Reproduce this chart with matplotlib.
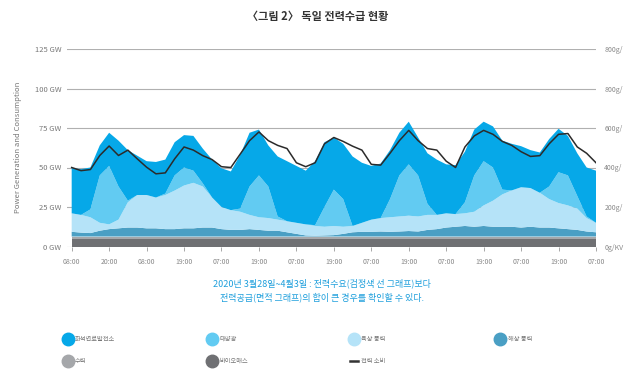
import matplotlib
matplotlib.use("Agg")
import matplotlib.pyplot as plt
import numpy as np
from matplotlib.lines import Line2D

plt.rcParams["font.family"] = ["Noto Sans CJK KR", "DejaVu Sans"]

# hours since start (08:00, 28 March), every 3 h
hours = np.arange(0, 169, 3)

# upper edge of each stacked layer (GW)
total_top = [49.5, 49, 50, 64, 72, 67, 61, 57.5, 54, 53.5, 55, 66, 70.5, 70,
             62, 55, 49.5, 47.5, 58, 72, 74, 64, 57, 54, 51, 48, 54, 66,
             69, 65, 57, 53, 51, 52.5, 61, 72, 79, 69, 59, 55, 52, 51.5,
             60, 74, 79, 76, 67, 65, 63.5, 61, 59.5, 68, 74.5, 70, 59, 50, 48]
solar_top = [21, 20, 23.5, 45, 51, 38, 29, 32.6, 32.6, 31, 33.5, 45, 50, 48,
             40, 31, 25, 23, 24, 38, 45, 38, 19, 16, 15, 14, 13.5, 25,
             36, 30, 13, 15, 17, 18, 30, 45, 52, 45, 27, 20, 21, 20.5,
             28, 45, 54, 50, 36, 35.5, 37.5, 37, 34, 38, 47, 45, 32, 19, 15]
onshore_top = [21, 20, 18.5, 15, 14, 17, 28, 32.6, 32.6, 31, 32.6, 35.4, 38.6, 40.3,
               38, 31, 25, 23, 22, 20, 18.5, 18, 17, 16, 15, 14, 13, 12.5,
               13, 12.5, 13, 15, 17, 18, 18.5, 19, 19.5, 19, 20, 20, 21, 20.5,
               21, 22, 26, 29, 33, 35.5, 37.5, 37, 34, 30, 27.5, 26, 24, 18, 15]
offshore_top = [9.3, 8.8, 8.5, 10, 11, 11.5, 12, 12, 11.5, 11.5, 11, 11, 11.5, 11.5,
                12, 12, 11, 10.5, 10.5, 11, 10.5, 10, 10, 9, 8, 7, 6.8, 7,
                7.2, 8, 9, 9.3, 9.3, 9.5, 9.3, 9.5, 9.8, 9.5, 10.5, 11, 12, 12.5,
                13, 12.5, 13, 12.5, 12.5, 12.5, 12, 12.5, 12, 12, 11.5, 11, 10.5, 9.5, 9]
hydro_top = [6.3] * len(hours)
biomass = [4.5] * len(hours)

demand = [50, 48, 48.7, 57.6, 63.6, 57.6, 61, 55.5, 50.2, 46, 46.6, 55.5, 63, 61,
          57.5, 55, 50.5, 50, 58.5, 67, 72.5, 67, 64, 62, 53, 50.5, 53, 65,
          69, 66.5, 63.5, 61, 52, 51.5, 59, 67, 73.5, 67, 62, 61, 54, 50,
          63, 70, 73.5, 71, 66.5, 64, 60, 57, 57.5, 65, 71, 71.5, 63, 59, 53]

tick_hours = np.arange(0, 169, 12)
tick_labels = ["08:00", "20:00", "08:00", "19:00", "07:00", "19:00", "07:00", "19:00",
               "07:00", "19:00", "07:00", "19:00", "07:00", "19:00", "07:00"]
left_labels = ["0 GW", "25 GW", "50 GW", "75 GW", "100 GW", "125 GW"]
right_labels = ["0g/KV", "200g/", "400g/", "600g/", "800g/", "800g/"]

names = ["바이오매스", "수력", "해상 풍력", "육상 풍력", "태양광", "화석연료발전소"]
colors = ["#6f7073", "#a5a7aa", "#4a9fc4", "#b5e3f8", "#62cbf2", "#06a8e8"]

tops = np.array([biomass, hydro_top, offshore_top, onshore_top, solar_top, total_top])
layers = np.diff(np.vstack([np.zeros(len(hours)), tops]), axis=0)

fig = plt.figure(figsize=(6.4, 3.78), dpi=100)
ax = fig.add_axes([67 / 640, 1 - 246.5 / 378, 529 / 640, 197.5 / 378])

ax.stackplot(hours, layers, colors=colors, linewidth=0, zorder=2)
ax.plot(hours, demand, color="#2b2b2b", lw=1.1, zorder=3)

ax.set_xlim(-1.5, 168)
ax.set_ylim(0, 125)
ax.set_yticks(np.arange(0, 126, 25))
ax.set_yticklabels(left_labels)
ax.set_xticks(tick_hours)
ax.set_xticklabels(tick_labels)
ax.grid(axis="y", color="#b0b0b0", lw=0.8, zorder=1)
for s in ax.spines.values():
    s.set_visible(False)
ax.tick_params(axis="y", length=0, pad=4, labelsize=5.5, labelcolor="#777777")
ax.tick_params(axis="x", length=3, width=0.6, color="#999999", pad=5,
               labelsize=5, labelcolor="#888888")
ax.set_ylabel("Power Generation and Consumption", fontsize=5.5, color="#777777",
              labelpad=9)

ax2 = ax.twinx()
ax2.set_ylim(0, 125)
ax2.set_yticks(np.arange(0, 126, 25))
ax2.set_yticklabels(right_labels)
ax2.tick_params(axis="y", length=0, pad=6, labelsize=5, labelcolor="#888888")
for s in ax2.spines.values():
    s.set_visible(False)

fig.text(0.497, 0.957, "〈그림 2〉 독일 전력수급 현황", ha="center", va="center",
         fontsize=8, fontweight="bold", color="#333333")
fig.text(0.503, 0.232, "2020년 3월28일~4월3일 : 전력수요(검정색 선 그래프)보다\n"
         "전력공급(면적 그래프)의 합이 큰 경우를 확인할 수 있다.",
         ha="center", va="center", fontsize=6.5, color="#1e9fdc", linespacing=1.6)

def dot(c):
    return Line2D([], [], marker="o", ls="none", markersize=9, color=c)

columns = [
    ([dot(colors[5]), dot(colors[1])], [names[5], names[1]], 0.096),
    ([dot(colors[4]), dot(colors[0])], [names[4], names[0]], 0.322),
    ([dot(colors[3]), Line2D([], [], color="#333333", lw=1.8)], [names[3], "전력 소비"], 0.543),
    ([dot(colors[2])], [names[2]], 0.772),
]
for handles, labels, x0 in columns:
    fig.legend(handles, labels, loc="upper left", bbox_to_anchor=(x0, 0.12),
               frameon=False, fontsize=4.5, labelcolor="#777777", handlelength=1.2,
               handletextpad=0.6, labelspacing=2.2, borderaxespad=0)

fig.savefig("out.png", dpi=100)
